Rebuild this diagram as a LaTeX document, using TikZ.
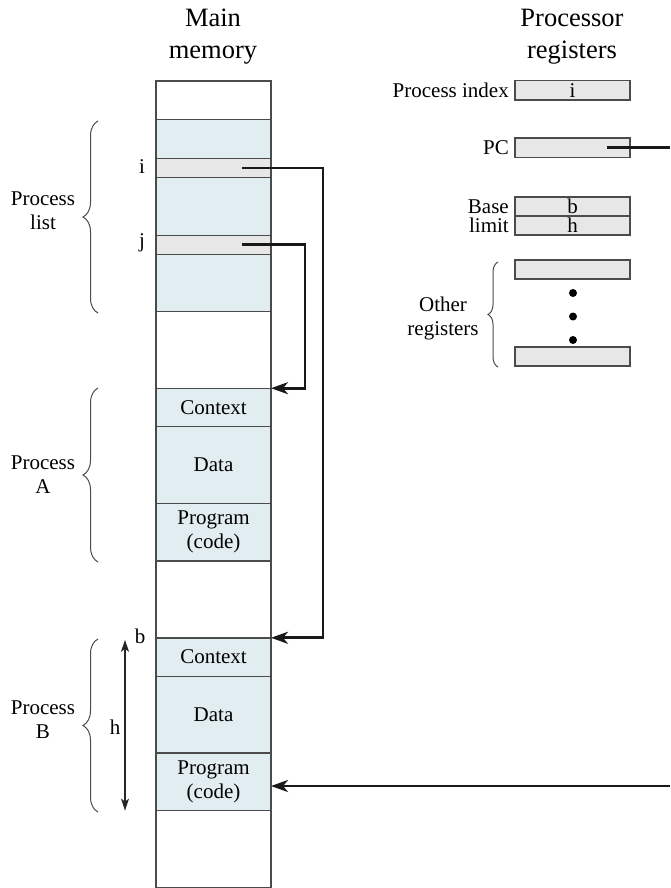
\documentclass[tikz,border=0pt]{standalone}
\usepackage{fontspec}
\setmainfont{Liberation Serif}
\usetikzlibrary{arrows.meta,decorations.pathreplacing,calc}
\definecolor{memblue}{RGB}{225,237,240}
\definecolor{reggray}{RGB}{231,231,231}
\definecolor{edgegray}{RGB}{75,75,75}
\begin{document}
\begin{tikzpicture}[x=1pt,y=-1pt,
  every node/.style={font=\fontsize{21}{24}\selectfont},
  cell/.style={draw=edgegray,line width=1.4pt,minimum width=115pt,inner sep=0pt,outer sep=0pt,anchor=north west,align=center},
  blue/.style={fill=memblue},
  slot/.style={fill=reggray},
  reg/.style={draw=edgegray,fill=reggray,line width=1.4pt,minimum width=115pt,inner sep=0pt,outer sep=0pt,anchor=north west},
  lbl/.style={inner sep=0pt,anchor=east},
  title/.style={align=center,font=\fontsize{26.5}{32}\selectfont},
  sidelbl/.style={align=center,inner sep=0pt},
  brc/.style={decorate,decoration={brace,amplitude=#1},line width=1pt,draw=edgegray},
  conn/.style={line width=2.7pt,draw=black!90},
  tip/.style={-{Stealth[length=17pt,width=12pt,inset=5pt]}},
  dim/.style={line width=1.4pt,draw=black!85,{Stealth[length=12pt,width=8pt,inset=3pt]}-{Stealth[length=12pt,width=8pt,inset=3pt]}}
]
\useasboundingbox (0,0) rectangle (670,888);
% titles
\node[title] (tmm) at (213,37) {Main\\memory};
\node[title] (tpr) at (572,37) {Processor\\registers};
% memory column
\node[cell,minimum height=38.4pt] (m0) at (156,81) {};
\node[cell,blue,minimum height=192pt] (pl) at (156,119.4) {};
\node[cell,slot,minimum height=19.2pt] (si) at (156,158.4) {};
\node[cell,slot,minimum height=19.2pt] (sj) at (156,235.2) {};
\node[cell,minimum height=76.8pt] (m1) at (156,311.4) {};
\node[cell,blue,minimum height=38.4pt] (actx) at (156,388.2) {Context};
\node[cell,blue,minimum height=76.8pt] (adata) at (156,426.6) {Data};
\node[cell,blue,minimum height=57.6pt] (aprog) at (156,503.4) {Program\\(code)};
\node[cell,minimum height=76.8pt] (m2) at (156,561) {};
\node[cell,blue,minimum height=38.4pt] (bctx) at (156,637.8) {Context};
\node[cell,blue,minimum height=76.8pt] (bdata) at (156,676.2) {Data};
\node[cell,blue,minimum height=57.6pt] (bprog) at (156,753) {Program\\(code)};
\node[cell,minimum height=76.8pt] (m3) at (156,810.6) {};
% slot labels
\node (li) at (142,167) {i};
\node (lj) at (142,243) {j};
% side labels and braces
\node[sidelbl] (lpl) at (43,211) {Process\\list};
\draw[brc=15pt] (98,313) -- (98,121);
\node[sidelbl] (lpa) at (43,475) {Process\\A};
\draw[brc=15pt] (98,562) -- (98,388);
\node[sidelbl] (lpb) at (43,720) {Process\\B};
\draw[brc=15pt] (98,812) -- (98,639);
% b and h
\node (lb) at (140,636) {b};
\node (lh) at (115,727) {h};
\draw[dim] ($(bctx.north west)+(-31,2)$) -- ($(bprog.south west)+(-31,0)$);
% registers
\node[reg,minimum height=19.5pt] (pidx) at (515,80.5) {i};
\node[lbl] (lpidx) at ($(pidx.west)+(-6,0)$) {Process index};
\node[reg,minimum height=19.5pt] (pc) at (515,138) {};
\node[lbl] (lpc) at ($(pc.west)+(-6,0)$) {PC};
\node[reg,minimum height=19pt] (base) at (515,197) {b};
\node[reg,minimum height=19pt] (lim) at (515,216) {h};
\node[lbl] (lbase) at ($(base.west)+(-6,0)$) {Base};
\node[lbl] (llim) at ($(lim.west)+(-6,0)$) {limit};
\node[reg,minimum height=19pt] (o1) at (515,260) {};
\node[reg,minimum height=19pt] (o2) at (515,347) {};
\fill (573,293) circle (4);
\fill (573,316.5) circle (4);
\fill (573,340) circle (4);
\draw[brc=10pt] (498,367) -- (498,262);
\node[sidelbl] (lother) at (443,318) {Other\\registers};
% connectors
\draw[conn,tip] ($(si.center)+(28.5,0)$) -- ++(81,0) |- (bctx.north east);
\draw[conn,tip] ($(sj.center)+(28.5,0)$) -- ++(63,0) |- (actx.north east);
\draw[conn] ($(pc.east)+(-23,0)$) -- ($(pc.east)+(40,0)$);
\coordinate (pcR) at (670,786);
\draw[conn,tip] (pcR) -- (pcR -| bprog.east);
\end{tikzpicture}
\end{document}
